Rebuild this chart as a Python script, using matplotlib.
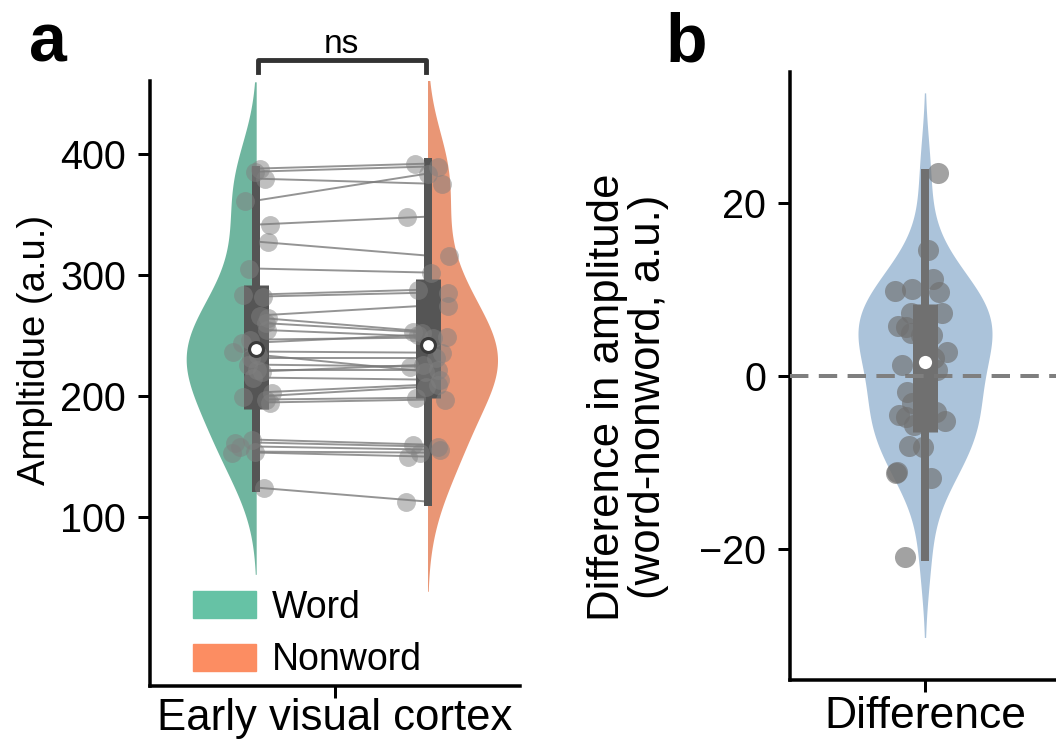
import numpy as np
import matplotlib
matplotlib.use("Agg")
import matplotlib.pyplot as plt
from matplotlib.patches import Patch

plt.rcParams['font.family'] = ['Liberation Sans', 'DejaVu Sans']

# ---------------- data ----------------
conditions = ['Word', 'Nonword']
region_label = 'Early visual cortex'
diff_label = 'Difference'

word_amp = [387.6, 385.1, 379.3, 361.2, 341.3, 327.3, 305.0, 283.5, 281.8, 266.1,
            264.5, 260.3, 254.5, 246.3, 243.8, 236.4, 233.9, 231.4, 225.6, 221.5,
            219.8, 214.9, 202.5, 199.2, 196.7, 194.2, 163.6, 161.2, 157.9, 153.7,
            152.9, 124.0]
nonword_amp = [391.7, 389.3, 375.2, 383.5, 347.9, 315.7, 301.7, 287.6, 285.1, 274.4,
               252.9, 252.1, 248.8, 248.0, 250.4, 235.5, 219.8, 231.4, 224.0, 221.5,
               225.6, 213.2, 209.1, 207.4, 198.3, 196.7, 159.5, 157.9, 155.4, 152.9,
               149.6, 112.4]
# box statistics: [whisker low, q1, median, q3, whisker high]
word_box = [120, 189, 238.6, 291.7, 390]
nonword_box = [109, 198, 242, 296.7, 396]

diff_amp = [23.4, 14.5, 11.2, 9.8, 10.0, 9.7, 7.3, 7.3, 7.0, 5.8, 5.7, 5.0, 4.7, 4.7,
            2.8, 1.3, 2.1, 0.7, -1.8, -3.1, -4.5, -4.7, -5.7, -4.2, -5.2, -8.1, -8.2,
            -11.2, -11.1, -11.8, -20.9]
diff_box = [-21.3, -6.5, 1.6, 8.3, 23.9]

# horizontal jitter of the dots (pixels in the reference)
word_jit_px = [4, -1, 9, -11, 14, 12, -7, -13, 7, 4, 12, 10, 11, -6, -14, -23, 2, -5,
               -8, 1, 6, -3, 16, -13, 10, 14, -4, -21, -16, -1, -24, 8]
nonword_jit_px = [-13, 10, 14, 0, -21, 21, 3, -10, 20, 20, -15, -6, 19, 5, -10, 14, -3,
                  8, -18, 10, -5, 12, 10, -2, -12, 17, -15, 10, 12, -8, -20, -22]
diff_jit_px = [13, 3, 8, -30, -13, 14, 17, -14, 1, -27, -19, -14, -4, 7, 22, -23, 9, 12,
               -18, -13, -26, -19, -11, 11, 20, -16, -2, -29, -28, 6, -20]

# ---------------- style ----------------
W, H = 1056, 742
fig = plt.figure(figsize=(W / 100, H / 100), dpi=100)
PX = 0.72  # points per pixel

col_word = '#6fb59f'
col_nonword = '#e99675'
col_word_leg = '#66c2a5'
col_nonword_leg = '#fc8d62'
col_diff = '#abc3da'


def kde(vals, cut=2.0, n=300):
    v = np.asarray(vals, float)
    bw = v.std(ddof=1) * len(v) ** (-0.2)
    grid = np.linspace(v.min() - cut * bw, v.max() + cut * bw, n)
    dens = np.exp(-0.5 * ((grid[:, None] - v[None, :]) / bw) ** 2).sum(1)
    return grid, dens / dens.max()


def style_axes(ax):
    for s in ['top', 'right']:
        ax.spines[s].set_visible(False)
    for s in ['left', 'bottom']:
        ax.spines[s].set_linewidth(3.5 * PX)
    ax.tick_params(width=3 * PX, length=12 * PX, color='black')
    ax.tick_params(axis='y', labelsize=28.5, pad=12 * PX)


def draw_box(ax, x, stats, color, box_w_px, wh_w_px, med_edge, ms=10, mew=2.2):
    lo, q1, med, q3, hi = stats
    ax.vlines(x, lo, hi, color=color, lw=wh_w_px * PX, zorder=3, capstyle='butt')
    ax.vlines(x, q1, q3, color=color, lw=box_w_px * PX, zorder=3, capstyle='butt')
    ax.plot([x], [med], 'o', ms=ms, mfc='white', mec=med_edge, mew=mew, zorder=6)


# ---------------- panel a ----------------
axa = fig.add_axes([150 / W, 1 - 686 / H, 370 / W, 605 / H])
style_axes(axa)
axa.set_xlim(-0.5, 0.5)
axa.set_ylim(-40, 460)
ux_a = 1 / 370.0
pos_w, pos_n = -0.213, 0.250
hw_a = 70 * ux_a

g, d = kde(word_amp)
axa.fill_betweenx(g, pos_w - d * hw_a, pos_w, color=col_word, lw=0, zorder=1)
g, d = kde(nonword_amp)
axa.fill_betweenx(g, pos_n, pos_n + d * hw_a, color=col_nonword, lw=0, zorder=1)

for wv, nv in zip(word_amp, nonword_amp):
    axa.plot([pos_w, pos_n], [wv, nv], color='#7a7a7a', lw=1.4, alpha=0.8, zorder=2)

draw_box(axa, pos_w, word_box, '#555555', 25, 8, '#3a3a3a')
draw_box(axa, pos_n, nonword_box, '#555555', 25, 8, '#3a3a3a')

axa.scatter(pos_w + np.array(word_jit_px) * ux_a, word_amp, s=185, color='#808080',
            alpha=0.5, lw=0, zorder=4)
axa.scatter(pos_n + np.array(nonword_jit_px) * ux_a, nonword_amp, s=185, color='#808080',
            alpha=0.5, lw=0, zorder=4)

axa.set_yticks([100, 200, 300, 400])
axa.set_xticks([0])
axa.set_xticklabels([region_label], fontsize=31.5)
axa.tick_params(axis='x', pad=0)
axa.set_ylabel('Ampltidue (a.u.)', fontsize=27.5)
axa.yaxis.set_label_coords(-0.262, 0.555)

# significance bracket
yb, yt = 467.8, 477.7
axa.plot([pos_w + 0.005, pos_w + 0.005, pos_n - 0.005, pos_n - 0.005], [yb, yt, yt, yb],
         color='#333333', lw=3.5, clip_on=False, zorder=5)
axa.text((pos_w + pos_n) / 2, 483.0, 'ns', ha='center', va='baseline', fontsize=24)

leg = axa.legend(handles=[Patch(color=col_word_leg, label=conditions[0]),
                          Patch(color=col_nonword_leg, label=conditions[1])],
                 loc='lower left', bbox_to_anchor=(0.097, 0.0), frameon=False,
                 fontsize=27, handlelength=1.68, handleheight=0.75,
                 handletextpad=0.42, labelspacing=0.45, borderpad=0.2,
                 borderaxespad=0.0)

# ---------------- panel b ----------------
axb = fig.add_axes([790 / W, 1 - 679.5 / H, 270 / W, 607 / H])
style_axes(axb)
axb.set_xlim(-0.5, 0.5)
axb.set_ylim(-35, 35)
ux_b = 1 / 270.0
hw_b = 67 * ux_b
g, d = kde(diff_amp)
axb.fill_betweenx(g, -d * hw_b, d * hw_b, color=col_diff, lw=0, zorder=1)
draw_box(axb, 0, diff_box, '#707070', 25, 8, '#707070', ms=11, mew=1.5)
axb.axhline(0, color='#7f7f7f', lw=4 * PX, dashes=(4.6, 2.6), zorder=3.5)
axb.scatter(np.array(diff_jit_px) * ux_b, diff_amp, s=230, color='#707070',
            alpha=0.65, lw=0, zorder=4)
axb.set_yticks([-20, 0, 20])
axb.set_xticks([0])
axb.set_xticklabels([diff_label], fontsize=32)
axb.tick_params(axis='x', pad=3)
axb.set_ylabel('Difference in amplitude\n(word-nonword, a.u.)', fontsize=31.5,
               linespacing=1.0)
axb.yaxis.set_label_coords(-0.45, 0.465)

# panel letters
fig.text(29 / W, 1 - 61 / H, 'a', fontsize=49, fontweight='bold', va='baseline')
fig.text(666 / W, 1 - 61 / H, 'b', fontsize=49, fontweight='bold', va='baseline')

fig.savefig('out.png', dpi=100)
